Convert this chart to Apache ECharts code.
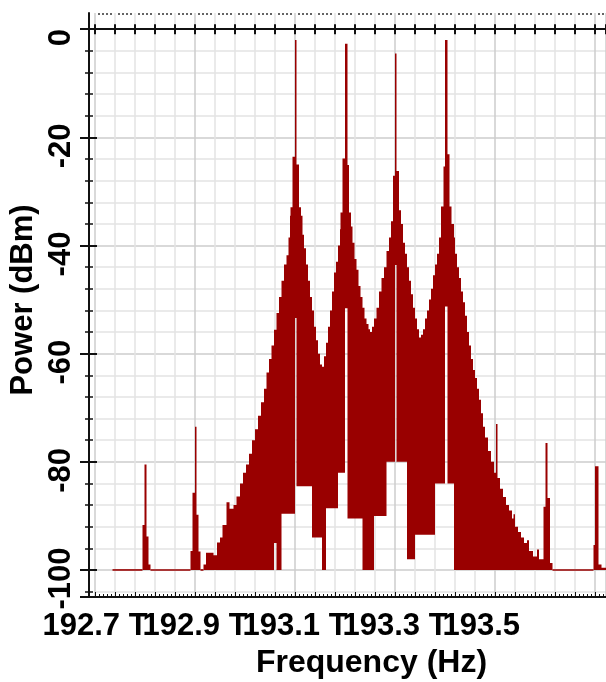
<!DOCTYPE html>
<html>
<head>
<meta charset="utf-8">
<title>Power spectrum</title>
<script src="https://cdn.jsdelivr.net/npm/echarts@6/dist/echarts.min.js"></script>
<style>
  html, body { margin: 0; padding: 0; background: #fff; }
  #chart { width: 606px; height: 682px; }
</style>
</head>
<body>
<div id="chart"></div>
<script>
// spectrum trace: segment i runs from specFreq[i] to specFreq[i + 1] (THz),
// filled between specLow[i] and specHigh[i] (dBm)
const specFreq = [
  192.735, 192.795, 192.799, 192.803, 192.807, 192.811, 192.891, 192.895, 192.900, 192.903,
  192.907, 192.911, 192.917, 192.922, 192.937, 192.944, 192.950, 192.955, 192.963, 192.969,
  192.977, 192.983, 192.990, 192.996, 193.002, 193.008, 193.014, 193.020, 193.026, 193.032,
  193.038, 193.043, 193.048, 193.053, 193.058, 193.063, 193.068, 193.073, 193.078, 193.083,
  193.087, 193.090, 193.091, 193.095, 193.100, 193.103, 193.108, 193.112, 193.115, 193.118,
  193.122, 193.126, 193.130, 193.134, 193.138, 193.142, 193.146, 193.150, 193.154, 193.158,
  193.162, 193.166, 193.170, 193.174, 193.178, 193.182, 193.186, 193.190, 193.191, 193.195,
  193.200, 193.205, 193.208, 193.212, 193.215, 193.219, 193.223, 193.227, 193.231, 193.235,
  193.239, 193.243, 193.247, 193.250, 193.254, 193.258, 193.263, 193.268, 193.273, 193.278,
  193.283, 193.288, 193.292, 193.296, 193.300, 193.303, 193.308, 193.312, 193.316, 193.320,
  193.324, 193.328, 193.332, 193.336, 193.340, 193.344, 193.348, 193.352, 193.356, 193.360,
  193.364, 193.368, 193.372, 193.376, 193.380, 193.384, 193.388, 193.392, 193.397, 193.400,
  193.405, 193.409, 193.413, 193.418, 193.420, 193.424, 193.428, 193.432, 193.436, 193.440,
  193.444, 193.448, 193.452, 193.456, 193.460, 193.464, 193.468, 193.472, 193.476, 193.480,
  193.486, 193.492, 193.498, 193.502, 193.505, 193.510, 193.516, 193.522, 193.528, 193.534,
  193.537, 193.540, 193.546, 193.552, 193.558, 193.564, 193.568, 193.576, 193.584, 193.588,
  193.597, 193.601, 193.605, 193.610, 193.615, 193.697, 193.700, 193.707, 193.713, 193.722
];
const specHigh = [
  -100, -91.7, -80.5, -93.8, -99, -100, -96.5, -85.7, -73.5, -89.8,
  -96.6, -100, -99, -96.8, -97.3, -94.9, -94, -91.7, -87.5, -88.7,
  -88, -86.4, -84, -82, -80.5, -78.5, -76, -74, -71.5, -69,
  -66.5, -63.5, -61, -58.5, -55.6, -52.5, -49.5, -46.5, -43.5, -41.8,
  -38.5, -34.5, -32.9, -23.6, -2.0, -25, -32.9, -34.5, -38, -40.5,
  -43.5, -46.5, -49.5, -52, -55, -57.5, -60, -62, -62.4, -60.5,
  -58, -55, -52, -48.5, -45, -43, -40, -37, -33.9, -23.9,
  -2.7, -25.1, -33.9, -36.5, -39.5, -42.5, -44.5, -47.5, -49.5, -51.5,
  -53.5, -54.5, -55.5, -56, -55, -53.5, -51.5, -48.5, -46, -44,
  -41, -38.5, -35.5, -27.1, -4.5, -26.2, -33.5, -36, -39.5, -41.5,
  -44, -46.5, -49, -51.5, -53.5, -55.5, -57, -56.5, -55.5, -53.5,
  -52, -50, -48, -45.5, -43.5, -41.5, -38.5, -32.8, -25.4, -2.0,
  -23.1, -32.8, -36, -38.5, -41.5, -44, -46, -48.5, -50.5, -53,
  -56, -58.5, -61, -63, -64.5, -66.5, -68.5, -71, -73.5, -75.5,
  -78, -80, -82, -73, -83, -85, -86.5, -88, -89, -90.5,
  -89.7, -92, -93, -94, -95, -94.5, -96.5, -97.5, -96.2, -98,
  -88.3, -76.5, -86.7, -98.7, -100, -95.4, -80.8, -99, -99.6
];
const specLow = [
  -100, -100, -100, -100, -100, -100, -100, -100, -100, -100,
  -100, -100, -100, -100, -100, -100, -100, -100, -100, -100,
  -100, -100, -100, -100, -100, -100, -100, -100, -100, -100,
  -100, -100, -100, -100, -95, -100, -100, -89.6, -89.6, -89.6,
  -89.6, -89.6, -89.6, -89.6, -53.4, -84.5, -84.5, -84.5, -84.5, -84.5,
  -84.5, -84.5, -84.5, -94, -94, -94, -94, -94, -100, -100,
  -88.6, -88.6, -88.6, -88.6, -88.6, -88.6, -82, -82, -82, -82,
  -51.6, -90.5, -90.5, -90.5, -90.5, -90.5, -90.5, -90.5, -90.5, -100,
  -100, -100, -100, -100, -100, -90, -90, -90, -90, -90,
  -80, -80, -80, -80, -43.6, -80, -80, -80, -80, -80,
  -98, -98, -98, -98, -93.5, -93.5, -93.5, -93.5, -93.5, -93.5,
  -93.5, -93.5, -93.5, -93.5, -84, -84, -84, -84, -84, -51.3,
  -84, -84, -84, -100, -100, -100, -100, -100, -100, -100,
  -100, -100, -100, -100, -100, -100, -100, -100, -100, -100,
  -100, -100, -100, -100, -100, -100, -100, -100, -100, -100,
  -100, -100, -100, -100, -100, -100, -100, -100, -100, -100,
  -100, -100, -100, -100, -100, -100, -100, -100, -100
];

const xTickValues = [192.7, 192.9, 193.1, 193.3, 193.5];
const xTickLabels = ['192.7 T', '192.9 T', '193.1 T', '193.3 T', '193.5 T'];
const yTickValues = [-100, -80, -60, -40, -20, 0];

const FONT = 'Liberation Sans, Arial, Helvetica, sans-serif';
const RED = '#990000';
const INK = '#111111';
const font = { color: '#000', fontSize: 31, fontWeight: 'bold', fontFamily: FONT };

const segments = specHigh.map((hi, i) => [specFreq[i], specFreq[i + 1], specLow[i], hi]);

// the whole trace is drawn once, as one filled band (top edge = high, bottom edge = low),
// plus thin strokes where the band has no height (flat noise floor)
function renderTrace(params, api) {
  if (params.dataIndex !== 0) return null;
  const n = params.dataInsideLength;
  const top = [];
  const bottom = [];
  const flats = [];
  for (let i = 0; i < n; i++) {
    const f0 = api.value(0, i), f1 = api.value(1, i);
    const lo = api.value(2, i), hi = api.value(3, i);
    const a = api.coord([f0, hi]), b = api.coord([f1, hi]);
    top.push(a, b);
    const c = api.coord([f0, lo]), d = api.coord([f1, lo]);
    bottom.push(c, d);
    if (c[1] - a[1] < 1.4) {
      flats.push({ type: 'rect', shape: { x: a[0], y: (a[1] + c[1]) / 2 - 0.8, width: b[0] - a[0], height: 1.6 },
                   style: { fill: RED } });
    }
  }
  const points = top.concat(bottom.reverse());
  return {
    type: 'group',
    children: [{ type: 'polygon', shape: { points: points }, style: { fill: RED, stroke: null } }].concat(flats)
  };
}

// 192.7 sits on its own axis: ECharts hides a neighbour of an overlapping first label
function xLabel(value) {
  const i = xTickValues.findIndex(v => Math.abs(v - value) < 1e-6);
  if (i < 0) return '';
  if (i === xTickValues.length - 1) return '{b|' + xTickLabels[i].replace(' T', '}{h| T}');
  return '{a|' + xTickLabels[i] + '}';
}
function xLabelInner(value) {
  return Math.abs(value - xTickValues[0]) < 1e-6 ? '' : xLabel(value);
}

const labelStyle = Object.assign({
  show: true, margin: 14, showMinLabel: true, showMaxLabel: true,
  rich: {
    a: Object.assign({}, font),
    b: Object.assign({}, font),
    h: Object.assign({}, font, { color: 'rgba(0,0,0,0)' })
  }
}, font);

const xCommon = {
  type: 'value', min: 192.7, max: 193.722, gridIndex: 0,
  axisLabel: { show: false }, splitLine: { show: false }
};
const yCommon = { type: 'value', min: -105, max: 3, position: 'left', offset: 6, gridIndex: 0 };

const chart = echarts.init(document.getElementById('chart'), null, { renderer: 'canvas' });
chart.setOption({
  animation: false,
  backgroundColor: '#fff',
  grid: { left: 95, right: 0, top: 13, bottom: 85, containLabel: false, outerBoundsMode: 'none' },
  xAxis: [
    Object.assign({}, xCommon, {
      position: 'bottom', interval: 0.2,
      axisLine: { show: true, onZero: false, lineStyle: { color: INK, width: 2 } },
      axisTick: { show: false },
      axisLabel: Object.assign({}, labelStyle, { formatter: xLabelInner }),
      splitLine: { show: true, lineStyle: { color: '#cccccc', width: 1.5 } },
      minorTick: { show: false, splitNumber: 5 },
      minorSplitLine: { show: true, lineStyle: { color: '#e4e4e4', width: 1.5 } },
      name: 'Frequency (Hz)', nameLocation: 'middle', nameGap: 50, nameMoveOverlap: false,
      nameTextStyle: Object.assign({}, font, { fontSize: 32, padding: [0, 0, 0, 42] })
    }),
    Object.assign({}, xCommon, {
      position: 'bottom', interval: 0.04,
      axisLine: { show: false, onZero: false },
      axisTick: { show: true, inside: true, length: 5, lineStyle: { color: INK, width: 1 } },
      minorTick: { show: true, splitNumber: 5, length: 3, lineStyle: { color: INK, width: 1 } },
      axisLabel: Object.assign({}, labelStyle, { formatter: xLabel, customValues: xTickValues.slice(0, 1) })
    }),
    Object.assign({}, xCommon, {
      position: 'bottom', interval: 0.04,
      axisLine: { show: true, onZero: true, onZeroAxisIndex: 0, lineStyle: { color: INK, width: 2 } },
      axisTick: { show: true, inside: true, length: 5, lineStyle: { color: INK, width: 2 } }
    }),
    Object.assign({}, xCommon, {
      position: 'bottom', interval: 0.04,
      axisLine: { show: false, onZero: true, onZeroAxisIndex: 0 },
      axisTick: { show: true, inside: false, length: 5, lineStyle: { color: INK, width: 2 } }
    }),
    Object.assign({}, xCommon, {
      position: 'top', interval: 0.04,
      axisLine: { show: false, onZero: false },
      axisTick: { show: false, inside: true },
      minorTick: { show: true, splitNumber: 5, length: 2, lineStyle: { color: '#333', width: 1.5 } }
    })
  ],
  yAxis: [
    Object.assign({}, yCommon, {
      axisLine: { show: true, onZero: false, lineStyle: { color: INK, width: 2 } },
      axisTick: { show: true, inside: false, length: 9, customValues: [-105].concat(yTickValues),
                  lineStyle: { color: INK, width: 2 } },
      minorTick: { show: true, splitNumber: 5, length: 4, lineStyle: { color: INK, width: 1.5 } },
      axisLabel: Object.assign({ customValues: yTickValues, rotate: 90, margin: 12,
                                 padding: [0, 17, 0, 0] }, font),
      splitLine: { show: true, lineStyle: { color: '#cccccc', width: 1.5 } },
      minorSplitLine: { show: true, lineStyle: { color: '#e4e4e4', width: 1.5 } },
      name: 'Power (dBm)', nameLocation: 'middle', nameGap: 50, nameMoveOverlap: false,
      nameTextStyle: Object.assign({}, font, { padding: [0, 0, 0, 10] })
    }),
    Object.assign({}, yCommon, {
      axisLine: { show: false, onZero: false },
      axisTick: { show: true, inside: true, length: 8, customValues: [-105].concat(yTickValues),
                  lineStyle: { color: INK, width: 2 } },
      minorTick: { show: true, splitNumber: 5, length: 4, lineStyle: { color: INK, width: 1.5 } },
      axisLabel: { show: false },
      splitLine: { show: false }
    })
  ],
  series: [{
    type: 'custom',
    name: 'Power',
    xAxisIndex: 0,
    yAxisIndex: 0,
    z: 10,
    renderItem: renderTrace,
    encode: { x: [0, 1], y: [2, 3] },
    data: segments,
    clip: true,
    silent: true
  }]
});
</script>
</body>
</html>
